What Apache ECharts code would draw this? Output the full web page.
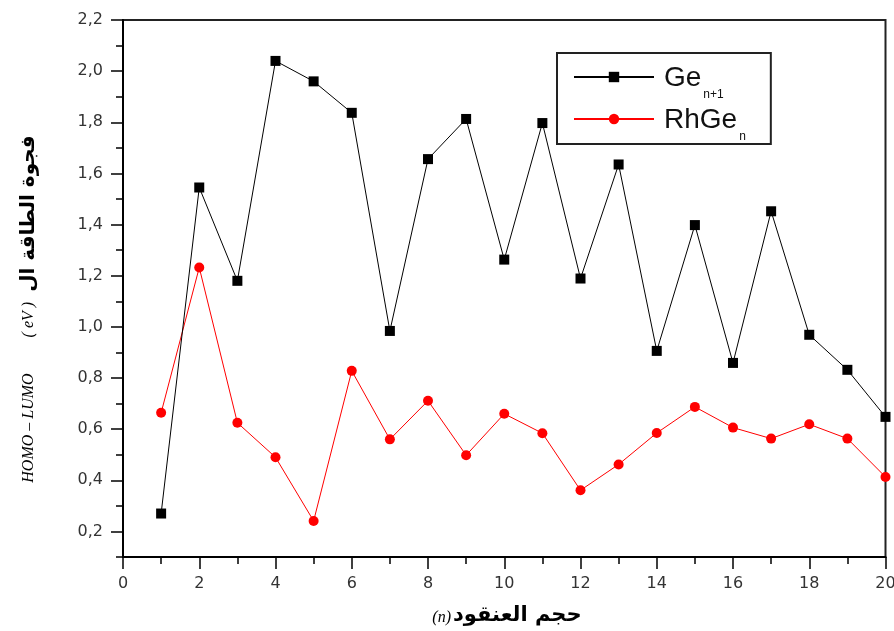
<!DOCTYPE html>
<html>
<head>
<meta charset="utf-8">
<title>HOMO-LUMO gap</title>
<script src="https://cdn.jsdelivr.net/npm/echarts@6/dist/echarts.min.js"></script>
<style>
  html, body { margin: 0; padding: 0; background: #fff; }
  #chart { width: 894px; height: 631px; }
</style>
</head>
<body>
<div id="chart"></div>
<script>
// Cluster size n
const clusterSizes = [1, 2, 3, 4, 5, 6, 7, 8, 9, 10, 11, 12, 13, 14, 15, 16, 17, 18, 19, 20];
// HOMO-LUMO gap (eV) of pure Ge(n+1) clusters
const geGap = [0.27, 1.545, 1.18, 2.04, 1.96, 1.837, 0.984, 1.656, 1.813, 1.263,
               1.797, 1.189, 1.635, 0.906, 1.398, 0.859, 1.452, 0.969, 0.832, 0.648];
// HOMO-LUMO gap (eV) of Rh-doped RhGe(n) clusters
const rhgeGap = [0.664, 1.232, 0.625, 0.49, 0.241, 0.828, 0.56, 0.711, 0.498, 0.66,
                 0.584, 0.361, 0.462, 0.585, 0.687, 0.606, 0.563, 0.619, 0.563, 0.413];
// Labelled (major) and unlabelled (minor) ticks of the gap axis
const yMajorTicks = [0.2, 0.4, 0.6, 0.8, 1.0, 1.2, 1.4, 1.6, 1.8, 2.0, 2.2];
const yMinorTicks = [0.1, 0.3, 0.5, 0.7, 0.9, 1.1, 1.3, 1.5, 1.7, 1.9, 2.1];

const tickFont = 'DejaVu Sans';
const arabicFont = 'DejaVu Sans';
const serifFont = 'Liberation Serif';
const legendFont = 'Liberation Sans';

const chart = echarts.init(document.getElementById('chart'), null, { renderer: 'canvas' });

const fmtComma = v => v.toFixed(1).replace('.', ',');

const option = {
  animation: false,
  backgroundColor: '#fff',
  grid: {
    left: 123, right: 8.5, top: 20, bottom: 74,
    containLabel: false,
    outerBoundsMode: 'none',
    show: true,
    borderColor: '#222',
    borderWidth: 2,
    backgroundColor: 'transparent'
  },
  legend: {
    orient: 'vertical',
    left: 557,
    top: 53,
    itemWidth: 80,
    itemHeight: 13,
    itemGap: 3,
    padding: [9, 25, 1, 16],
    borderColor: '#222',
    borderWidth: 2,
    borderRadius: 0,
    backgroundColor: '#fff',
    selectedMode: false,
    data: ['Ge', 'RhGe'],
    formatter: name => name === 'Ge' ? '{b|Ge}{s|n+1}' : '{b|RhGe}{s|n}',
    textStyle: {
      color: '#111',
      rich: {
        b: { fontFamily: legendFont, fontSize: 28, lineHeight: 30, verticalAlign: 'top', padding: [2, 0, 0, 5], color: '#111' },
        s: { fontFamily: legendFont, fontSize: 12, lineHeight: 12, verticalAlign: 'top', padding: [27, 0, 0, 2], color: '#111' }
      }
    }
  },
  xAxis: {
    type: 'value',
    min: 0,
    max: 20,
    interval: 2,
    axisLine: { show: true, onZero: false, lineStyle: { color: '#000', width: 2 } },
    axisTick: { show: true, inside: false, length: 12, lineStyle: { color: '#000', width: 1.5 } },
    minorTick: { show: true, splitNumber: 2, length: 7, lineStyle: { color: '#000', width: 1.5 } },
    splitLine: { show: false },
    minorSplitLine: { show: false },
    axisLabel: { margin: 19, fontFamily: tickFont, fontSize: 16, color: '#333' }
  },
  yAxis: [
    {
      type: 'value',
      min: 0.1,
      max: 2.2,
      interval: 0.1,
      position: 'left',
      axisLine: { show: true, onZero: false, lineStyle: { color: '#000', width: 2 } },
      axisTick: { show: true, inside: false, length: 12, customValues: yMajorTicks, lineStyle: { color: '#000', width: 1.5 } },
      axisLabel: { customValues: yMajorTicks, formatter: fmtComma, margin: 20, fontFamily: tickFont, fontSize: 16, color: '#333' },
      splitLine: { show: false }
    },
    {
      type: 'value',
      min: 0.1,
      max: 2.2,
      interval: 0.1,
      position: 'left',
      offset: 0,
      axisLine: { show: false },
      axisTick: { show: true, inside: false, length: 7, customValues: yMinorTicks, lineStyle: { color: '#000', width: 1.5 } },
      axisLabel: { show: false },
      splitLine: { show: false }
    }
  ],
  graphic: [
    {
      // Vertical axis title
      type: 'text',
      x: 29,
      y: 309,
      rotation: Math.PI / 2,
      style: {
        text: '{it|HOMO – LUMO}{it2|( eV )}{ar|فجوة الطاقة ال}',
        align: 'center',
        verticalAlign: 'middle',
        fill: '#000',
        rich: {
          it: { fontFamily: serifFont, fontStyle: 'italic', fontSize: 16, fill: '#000', padding: [0, 36, 0, 0] },
          it2: { fontFamily: serifFont, fontStyle: 'italic', fontSize: 16, fill: '#000', padding: [0, 10, 0, 0] },
          ar: { fontFamily: arabicFont, fontWeight: 'bold', fontSize: 20, fill: '#000' }
        }
      }
    },
    {
      // Horizontal axis title
      type: 'text',
      x: 507,
      y: 616,
      style: {
        text: '{it|(n)}{ar|حجم العنقود}',
        align: 'center',
        verticalAlign: 'middle',
        fill: '#000',
        rich: {
          it: { fontFamily: serifFont, fontStyle: 'italic', fontSize: 16, fill: '#000', padding: [4, 2, 0, 0] },
          ar: { fontFamily: arabicFont, fontWeight: 'bold', fontSize: 21, fill: '#000' }
        }
      }
    }
  ],
  series: [
    {
      name: 'Ge',
      type: 'line',
      yAxisIndex: 0,
      data: clusterSizes.map((n, i) => [n, geGap[i]]),
      symbol: 'rect',
      symbolSize: 10,
      itemStyle: { color: '#000' },
      lineStyle: { color: '#000', width: 1 },
      z: 3
    },
    {
      name: 'RhGe',
      type: 'line',
      yAxisIndex: 0,
      data: clusterSizes.map((n, i) => [n, rhgeGap[i]]),
      symbol: 'circle',
      symbolSize: 10,
      itemStyle: { color: '#ff0000' },
      lineStyle: { color: '#ff0000', width: 1 },
      z: 2
    }
  ]
};

chart.setOption(option);
</script>
</body>
</html>
